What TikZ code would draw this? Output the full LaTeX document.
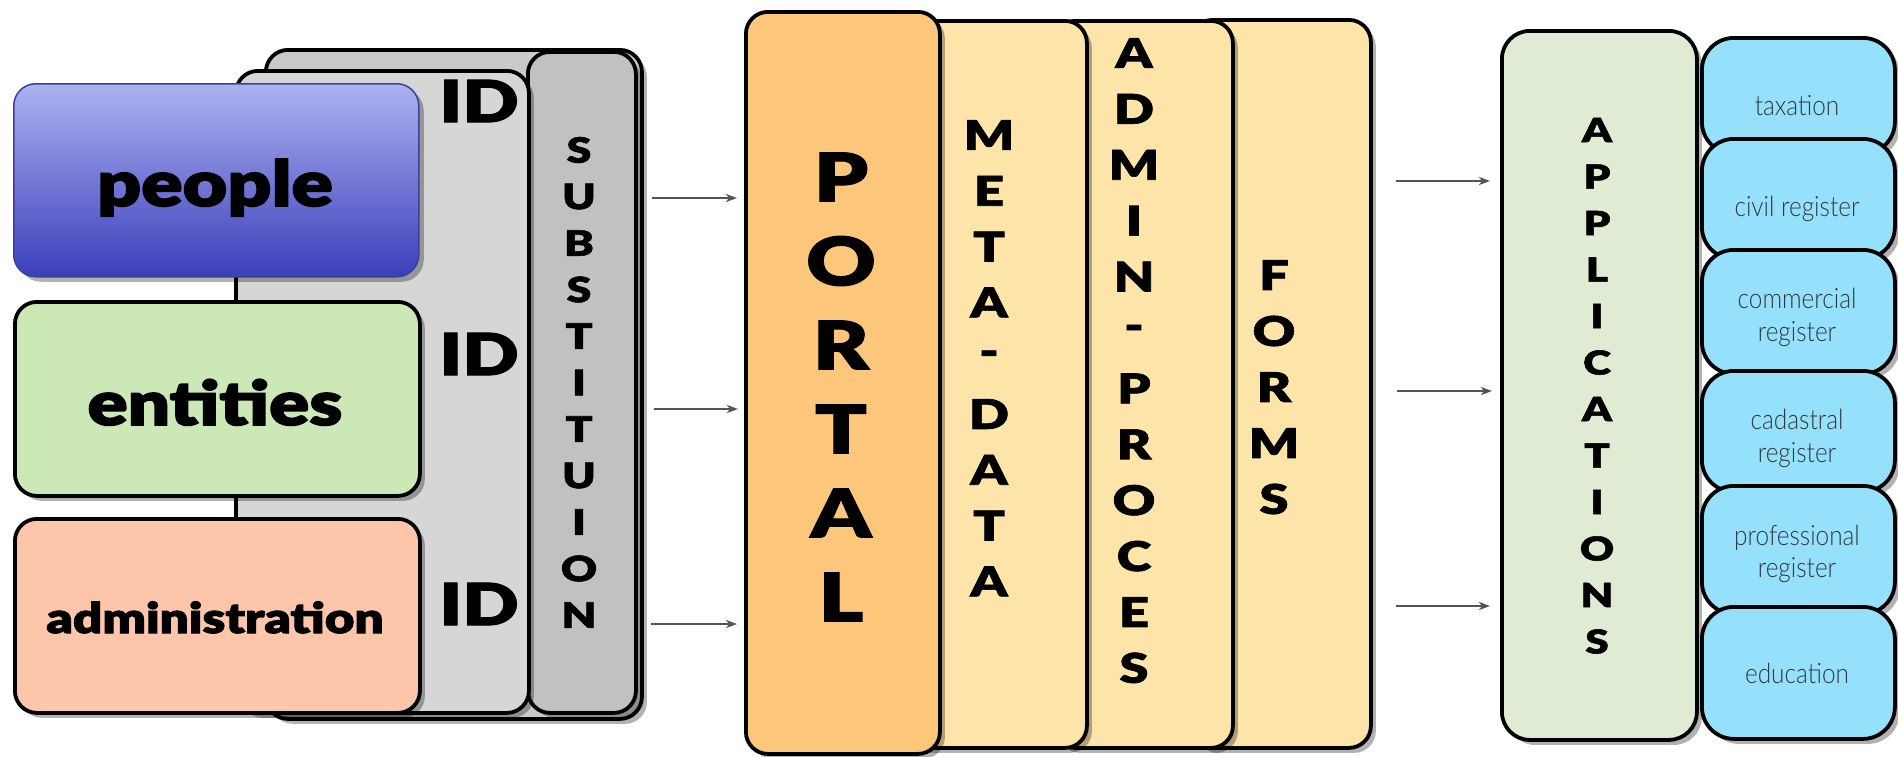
\documentclass[tikz,border=0pt]{standalone}
\usepackage{fontspec}
\setmainfont{Lato}
\newfontfamily\heavy{Lato Black}[FakeBold=1.5, FakeStretch=1.28]
\newfontfamily\ultra{Lato Black}[FakeBold=2.5, FakeStretch=1.22]
\newfontfamily\lightf{Lato Light}[FakeStretch=0.87]
\usetikzlibrary{shadows,arrows.meta}
\definecolor{gA}{HTML}{CACACA}
\definecolor{gB}{HTML}{C1C1C1}
\definecolor{gC}{HTML}{D6D6D6}
\definecolor{pplTop}{HTML}{ADB2F2}
\definecolor{pplBot}{HTML}{3A3FBA}
\definecolor{pplLine}{HTML}{3A3F9A}
\definecolor{entF}{HTML}{CDE8B7}
\definecolor{admF}{HTML}{FDC5AA}
\definecolor{portF}{HTML}{FDC77B}
\definecolor{paleF}{HTML}{FDE4A8}
\definecolor{appF}{HTML}{E0EBD3}
\definecolor{blueF}{HTML}{95E1FC}
\definecolor{arrC}{HTML}{555555}
\definecolor{txtC}{HTML}{303A40}
\begin{document}
\begin{tikzpicture}[x=1pt,y=-1pt,
  box/.style={draw=black, line width=3.8pt, rounded corners=#1, inner sep=0pt, anchor=north west,
    drop shadow={shadow xshift=5pt, shadow yshift=-5pt, opacity=0.3, fill=black}},
  box/.default=22pt,
  letter/.style={font=\heavy\fontsize{#1}{#1}\selectfont, inner sep=0pt},
  bigword/.style={font=\ultra\fontsize{#1}{#1}\selectfont, inner sep=0pt, anchor=base},
  regtext/.style={font=\lightf\fontsize{28}{28}\selectfont, text=txtC, inner sep=0pt, anchor=base},
  arr/.style={draw=arrC, line width=2.5pt, -{Stealth[length=11pt,width=8pt,inset=3pt]}}]
\fill[white] (0,0) rectangle (1898,756);
\useasboundingbox (0,0) rectangle (1898,756);

% ---- left group: identities ----
\node[box, fill=gA, minimum width=376pt, minimum height=669pt] (backpanel) at (264,48) {};
\node[box, fill=gB, minimum width=108pt, minimum height=661pt] (subst) at (526,50) {};
\node[box, fill=gC, minimum width=293pt, minimum height=642pt] (idpanel) at (234,69) {};
\node[box, draw=pplLine, line width=1.5pt, top color=pplTop, bottom color=pplBot,
      minimum width=405pt, minimum height=193pt] (people) at (13,83) {};
\node[box, fill=entF, minimum width=405pt, minimum height=194pt] (entities) at (13,300) {};
\node[box, fill=admF, minimum width=405pt, minimum height=194pt] (admin) at (13,517) {};
\node[bigword=63] (peopleT) at (215,206) {people};
\node[bigword=61] (entitiesT) at (215,425) {entities};
\node[bigword=42] (adminT) at (215,633) {administration};
\node[letter=58] (id1) at (479,101) {ID};
\node[letter=58] (id2) at (479,354) {ID};
\node[letter=58] (id3) at (479,604) {ID};
\foreach \c [count=\i from 0] in {S,U,B,S,T,I,T,U,I,O,N}
  \node[letter=35] (sub\i) at (579,150+46.5*\i) {\c};

% ---- middle group: portal ----
\node[box, fill=paleF, minimum width=180pt, minimum height=728pt] (forms) at (1189,18) {};
\node[box, fill=paleF, minimum width=180pt, minimum height=727pt] (adminproc) at (1051,19) {};
\node[box, fill=paleF, minimum width=180pt, minimum height=727pt] (meta) at (905,19) {};
\node[box, fill=portF, minimum width=194pt, minimum height=742pt] (portal) at (744,10) {};
\foreach \c [count=\i from 0] in {P,O,R,T,A,L}
  \node[letter=67] (por\i) at (841,177+84*\i) {\c};
\foreach \c [count=\i from 0] in {M,E,T,A,-,D,A,T,A}
  \node[letter=41] (met\i) at (989,135+55.8*\i) {\c};
\foreach \c [count=\i from 0] in {A,D,M,I,N,-,P,R,O,C,E,S}
  \node[letter=41] (adm\i) at (1134,53+55.9*\i) {\c};
\foreach \c [count=\i from 0] in {F,O,R,M,S}
  \node[letter=41] (frm\i) at (1274,275+56*\i) {\c};

% ---- right group: applications ----
\node[box=28pt, fill=appF, minimum width=195pt, minimum height=709pt] (apps) at (1500,29) {};
\foreach \c [count=\i from 0] in {A,P,P,L,I,C,A,T,I,O,N,S}
  \node[letter=33] (app\i) at (1597,130+46.5*\i) {\c};
\node[box=32pt, fill=blueF, minimum width=193pt, minimum height=116pt] (tax) at (1700,36) {};
\node[box=32pt, fill=blueF, minimum width=193pt, minimum height=120pt] (civil) at (1700,137) {};
\node[box=32pt, fill=blueF, minimum width=193pt, minimum height=124pt] (comm) at (1700,248) {};
\node[box=32pt, fill=blueF, minimum width=193pt, minimum height=121pt] (cad) at (1700,369) {};
\node[box=32pt, fill=blueF, minimum width=193pt, minimum height=128pt] (prof) at (1700,484) {};
\node[box=32pt, fill=blueF, minimum width=193pt, minimum height=132pt] (edu) at (1700,605) {};
\node[regtext] (taxT) at (1797,115) {taxation};
\node[regtext] (civilT) at (1797,216) {civil register};
\node[regtext] (commT1) at (1797,308) {commercial};
\node[regtext] (commT2) at (1797,341) {register};
\node[regtext] (cadT1) at (1797,429) {cadastral};
\node[regtext] (cadT2) at (1797,462) {register};
\node[regtext] (profT1) at (1797,545) {professional};
\node[regtext] (profT2) at (1797,577) {register};
\node[regtext] (eduT) at (1797,683) {education};

% ---- arrows ----
\coordinate (la1) at (652,198); \coordinate (lb1) at (737,198);
\coordinate (la2) at (654,409); \coordinate (lb2) at (738,409);
\coordinate (la3) at (651,624); \coordinate (lb3) at (737,624);
\coordinate (ra1) at (1396,181); \coordinate (rb1) at (1490,181);
\coordinate (ra2) at (1397,391); \coordinate (rb2) at (1492,391);
\coordinate (ra3) at (1396,606); \coordinate (rb3) at (1490,606);
\foreach \k in {1,2,3} {
  \draw[arr] (la\k) -- (lb\k);
  \draw[arr] (ra\k) -- (rb\k);
}
\end{tikzpicture}
\end{document}
